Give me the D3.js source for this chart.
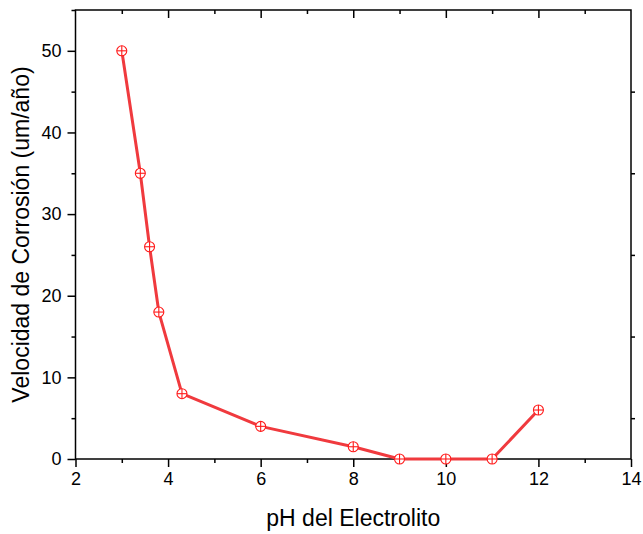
<!DOCTYPE html>
<html>
<head>
<meta charset="utf-8">
<script src="https://cdn.jsdelivr.net/npm/d3@7"></script>
<style>
  html, body { margin: 0; padding: 0; background: #fff; }
  svg { display: block; font-family: "Liberation Sans", Arial, sans-serif; }
</style>
</head>
<body>
<svg id="chart" width="643" height="534"></svg>
<script>
// pH of the electrolyte and the measured corrosion rate
const phValues = [3, 3.4, 3.6, 3.8, 4.3, 6, 8, 9, 10, 11, 12];
const corrosionRate = [50, 35, 26, 18, 8, 4, 1.5, 0, 0, 0, 6];

const xMajorTicks = [2, 4, 6, 8, 10, 12, 14];
const xMinorTicks = [3, 5, 7, 9, 11, 13];
const yMajorTicks = [0, 10, 20, 30, 40, 50];
const yMinorTicks = [5, 15, 25, 35, 45, 55];

const xTitle = "pH del Electrolito";
const yTitle = "Velocidad de Corrosión (um/año)";

const plot = { left: 75.5, right: 631, top: 10, bottom: 459 };

const svg = d3.select("#chart");

const x = d3.scaleLinear().domain([2, 14]).range([plot.left, plot.right]);
const y = d3.scaleLinear().domain([0, 55]).range([plot.bottom, plot.top]);

const axisColor = "#000";
const lineRed = "#f03a3e";
const markRed = "#ff1a1a";

function styleAxis(g) {
  g.select(".domain").remove();
  g.selectAll(".tick line").attr("stroke", axisColor).attr("stroke-width", 1.5);
  g.selectAll(".tick text").attr("fill", "#000").style("font-size", "18px")
    .style("font-family", "'Liberation Sans', Arial, sans-serif");
}

// bottom axis: outward ticks with labels
svg.append("g").attr("transform", `translate(0,${plot.bottom})`)
  .call(d3.axisBottom(x).tickValues(xMajorTicks).tickSize(8).tickPadding(5).tickFormat(d3.format("d")))
  .call(styleAxis);
svg.append("g").attr("transform", `translate(0,${plot.bottom})`)
  .call(d3.axisBottom(x).tickValues(xMinorTicks).tickSize(4).tickFormat(""))
  .call(styleAxis);

// left axis: outward ticks with labels
svg.append("g").attr("transform", `translate(${plot.left},0)`)
  .call(d3.axisLeft(y).tickValues(yMajorTicks).tickSize(8).tickPadding(6).tickFormat(d3.format("d")))
  .call(styleAxis);
svg.append("g").attr("transform", `translate(${plot.left},0)`)
  .call(d3.axisLeft(y).tickValues(yMinorTicks).tickSize(4).tickFormat(""))
  .call(styleAxis);

// top axis: inward ticks, no labels
svg.append("g").attr("transform", `translate(0,${plot.top})`)
  .call(d3.axisBottom(x).tickValues(xMajorTicks.filter(v => v > 2 && v < 14)).tickSize(8).tickFormat(""))
  .call(styleAxis);
svg.append("g").attr("transform", `translate(0,${plot.top})`)
  .call(d3.axisBottom(x).tickValues(xMinorTicks).tickSize(4).tickFormat(""))
  .call(styleAxis);

// right axis: short outward minor ticks
svg.append("g").attr("transform", `translate(${plot.right},0)`)
  .call(d3.axisRight(y).tickValues(yMinorTicks.filter(v => v < 55)).tickSize(4).tickFormat(""))
  .call(styleAxis);

// frame
svg.append("rect")
  .attr("x", plot.left).attr("y", plot.top)
  .attr("width", plot.right - plot.left).attr("height", plot.bottom - plot.top)
  .attr("fill", "none").attr("stroke", axisColor).attr("stroke-width", 1.5);

// data line
const points = phValues.map((v, i) => [v, corrosionRate[i]]);
svg.append("path")
  .datum(points)
  .attr("fill", "none")
  .attr("stroke", lineRed)
  .attr("stroke-width", 3)
  .attr("stroke-linejoin", "round")
  .attr("d", d3.line().x(d => x(d[0])).y(d => y(d[1])));

// crossed-circle markers
const marks = svg.append("g").selectAll("g").data(points).join("g")
  .attr("transform", d => `translate(${x(d[0])},${y(d[1])})`);
const r = 5;
marks.append("circle").attr("r", r).attr("fill", "#fff")
  .attr("stroke", markRed).attr("stroke-width", 1.1);
marks.append("line").attr("x1", -r).attr("x2", r).attr("y1", 0).attr("y2", 0)
  .attr("stroke", markRed).attr("stroke-width", 1.1);
marks.append("line").attr("x1", 0).attr("x2", 0).attr("y1", -r).attr("y2", r)
  .attr("stroke", markRed).attr("stroke-width", 1.1);

// axis titles
svg.append("text")
  .attr("x", (plot.left + plot.right) / 2).attr("y", 526)
  .attr("text-anchor", "middle")
  .style("font-size", "23px")
  .text(xTitle);

svg.append("text")
  .attr("transform", `translate(29,${(plot.top + plot.bottom) / 2}) rotate(-90)`)
  .attr("text-anchor", "middle")
  .style("font-size", "23px")
  .text(yTitle);
</script>
</body>
</html>
